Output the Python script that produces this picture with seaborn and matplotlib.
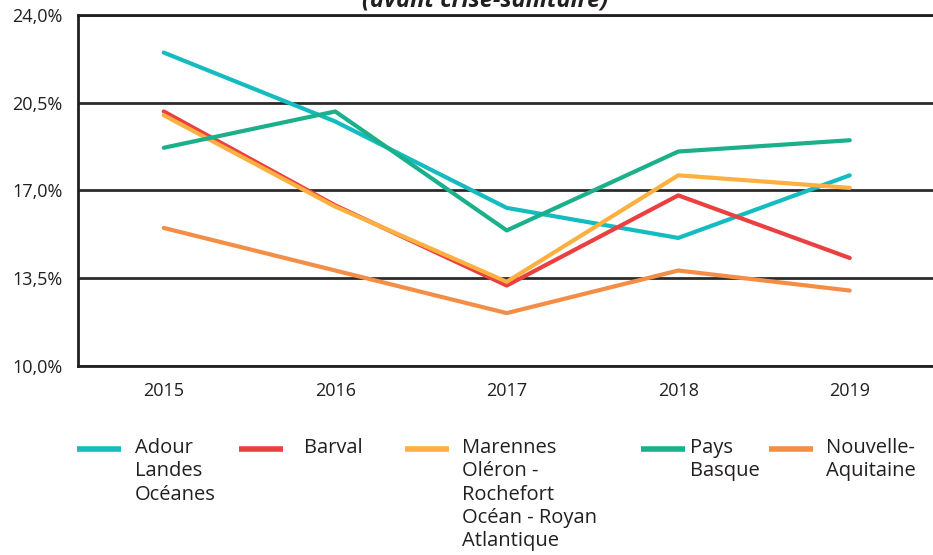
import matplotlib
matplotlib.use("Agg")
import matplotlib.pyplot as plt
from matplotlib.lines import Line2D
import seaborn as sns
import pandas as pd

# Taux par territoire, 2015-2019
years = ["2015", "2016", "2017", "2018", "2019"]
adour = [22.5, 19.75, 16.3, 15.1, 17.6]
barval = [20.15, 16.4, 13.2, 16.8, 14.3]
marennes = [20.0, 16.35, 13.35, 17.6, 17.1]
pays_basque = [18.7, 20.15, 15.4, 18.55, 19.0]
nouvelle_aquitaine = [15.5, 13.8, 12.1, 13.8, 13.0]

series_names = ["Adour Landes Océanes", "Barval",
                "Marennes Oléron - Rochefort Océan - Royan Atlantique",
                "Pays Basque", "Nouvelle-Aquitaine"]
series_values = [adour, barval, marennes, pays_basque, nouvelle_aquitaine]
legend_labels = ["Adour\nLandes\nOcéanes", "Barval",
                 "Marennes\nOléron -\nRochefort\nOcéan - Royan\nAtlantique",
                 "Pays\nBasque", "Nouvelle-\nAquitaine"]
y_ticks = [10.0, 13.5, 17.0, 20.5, 24.0]

colors = ["#14BCC0", "#EA4040", "#FBB03F", "#1BB08A", "#F48D45"]

df = pd.DataFrame(
    [(y, name, v) for name, vals in zip(series_names, series_values)
     for y, v in zip(years, vals)],
    columns=["Année", "Territoire", "Taux"],
)

sns.set_theme(style="white")
plt.rcParams["font.family"] = ["Open Sans", "DejaVu Sans"]
text_color = "#231F20"

fig = plt.figure(figsize=(9.33, 5.55), dpi=100)
ax = fig.add_axes([78 / 933, 1 - 365.7 / 555, (935.5 - 78) / 933, (365.7 - 15) / 555])

sns.lineplot(data=df, x="Année", y="Taux", hue="Territoire",
             hue_order=series_names, palette=dict(zip(series_names, colors)),
             sort=False, linewidth=3, ax=ax, legend=False, zorder=3)

ax.set_xlim(-0.5, 4.5)
ax.set_ylim(10, 24)
ax.set_yticks(y_ticks)
ax.set_yticklabels([f"{t:.1f}%".replace(".", ",") for t in y_ticks])
ax.set_xlabel("")
ax.set_ylabel("")
ax.tick_params(axis="both", length=0, labelsize=13, colors=text_color)
ax.tick_params(axis="y", pad=11)
ax.tick_params(axis="x", pad=12)

ax.yaxis.grid(True, color="#2B2B2B", linewidth=2)
ax.xaxis.grid(False)
for side in ["left", "bottom", "top"]:
    ax.spines[side].set_color("#231F20")
    ax.spines[side].set_linewidth(2)
ax.spines["right"].set_visible(False)

fig.text(485 / 933, 1 - 7 / 555, "(avant crise-sanitaire)", ha="center",
         va="baseline", fontsize=17, fontweight="bold", fontstyle="italic",
         color=text_color)

# Légende sous le graphique
handle_x = [(77, 121), (239, 283), (405, 449), (641, 685), (769, 813)]
text_x = [135, 304, 462, 690, 826]
H = 555
for (x0, x1), tx, lab, c in zip(handle_x, text_x, legend_labels, colors):
    fig.add_artist(Line2D([x0 / 933, x1 / 933], [1 - 449 / H, 1 - 449 / H],
                          transform=fig.transFigure, color=c, linewidth=4,
                          solid_capstyle="butt"))
    fig.text(tx / 933, 1 - 438 / H, lab, ha="left", va="top", fontsize=14.5,
             color=text_color, linespacing=1.22)

fig.savefig("out.png", dpi=100)
